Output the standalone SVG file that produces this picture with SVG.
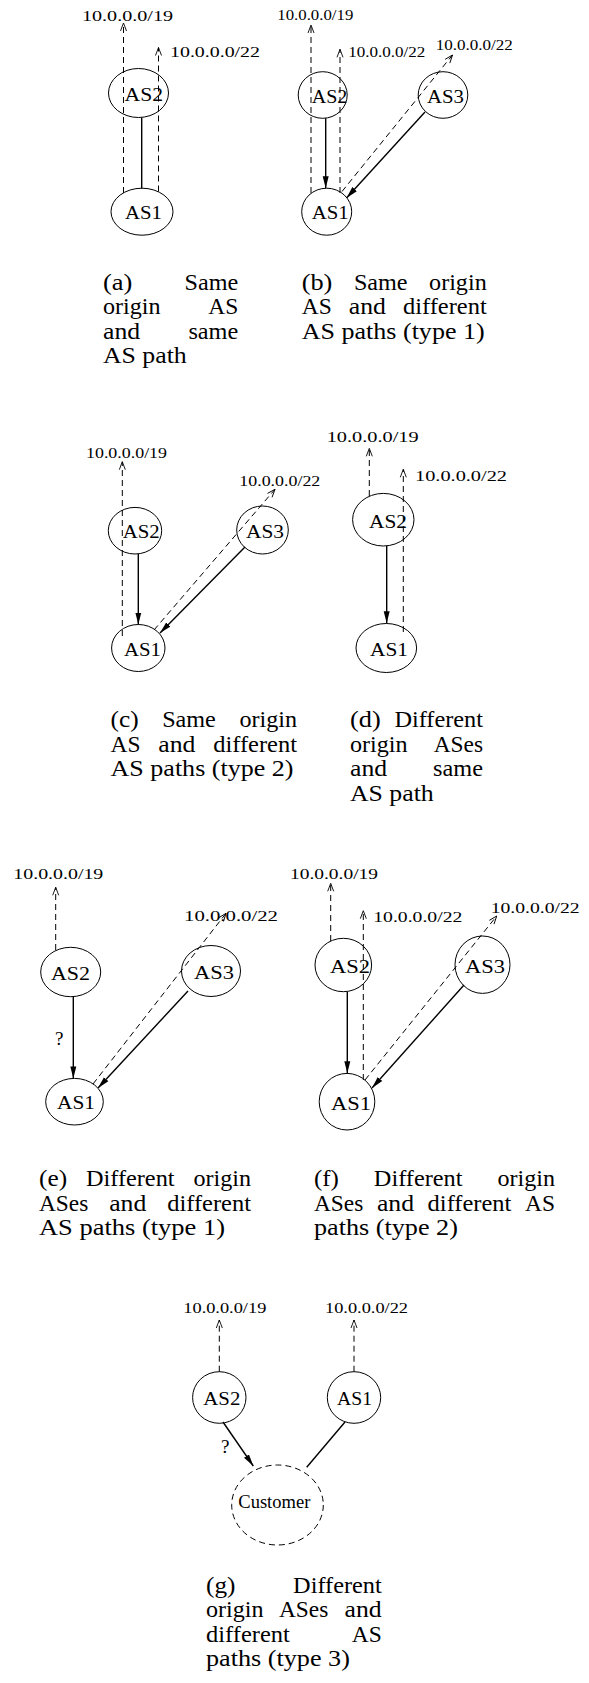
<svg xmlns="http://www.w3.org/2000/svg" width="589" height="1683" viewBox="0 0 589 1683">
<style>
text{font-family:"Liberation Serif","Times New Roman",serif;fill:#000}
.ip{font-size:14.5px}
.lb{font-size:19px}
.cap{font-size:23px}
.q{font-size:19px}
ellipse{fill:none;stroke:#000;stroke-width:1}
.dn{stroke-dasharray:6 4}
.d{fill:none;stroke:#000;stroke-width:1;stroke-dasharray:6 4}
.s{fill:none;stroke:#000;stroke-width:1.4}
</style>
<defs>
<marker id="op" markerWidth="10" markerHeight="8" refX="9" refY="4" orient="auto" markerUnits="userSpaceOnUse"><path d="M1,1 L9,4 L1,7" fill="none" stroke="#000" stroke-width="0.9"/></marker>
<marker id="fa" markerWidth="13" markerHeight="8" refX="12" refY="4" orient="auto" markerUnits="userSpaceOnUse"><path d="M0,1 L12,4 L0,7 Z" fill="#000"/></marker>
</defs>
<rect width="589" height="1683" fill="#fff"/>

<g id="connectors">
<!-- a -->
<path class="d" d="M123.5,193 V23" marker-end="url(#op)"/>
<path class="d" d="M158.5,191.5 V47.5" marker-end="url(#op)"/>
<path class="s" d="M141.7,117.5 V188.3"/>
<!-- b -->
<path class="d" d="M311,193 V25" marker-end="url(#op)"/>
<path class="d" d="M340,193 V49.3" marker-end="url(#op)"/>
<path class="d" d="M342,191.5 L452.5,55" marker-end="url(#op)"/>
<path class="s" d="M325.7,118.3 V188.2" marker-end="url(#fa)"/>
<path class="s" d="M425,112 L346.5,198" marker-end="url(#fa)"/>
<!-- c -->
<path class="d" d="M122.3,636 V461.7" marker-end="url(#op)"/>
<path class="d" d="M154,630 L275,489.3" marker-end="url(#op)"/>
<path class="s" d="M138.3,554 V624.5" marker-end="url(#fa)"/>
<path class="s" d="M245,547 L160,633" marker-end="url(#fa)"/>
<!-- d -->
<path class="d" d="M369.3,496 V448.3" marker-end="url(#op)"/>
<path class="d" d="M403.3,632 V469.3" marker-end="url(#op)"/>
<path class="s" d="M386.7,546 V623.3" marker-end="url(#fa)"/>
<!-- e -->
<path class="d" d="M55.7,950 V887.3" marker-end="url(#op)"/>
<path class="d" d="M93,1084 L226,913.3" marker-end="url(#op)"/>
<path class="s" d="M73.3,996.7 V1078.4" marker-end="url(#fa)"/>
<path class="s" d="M188,991 L98,1088" marker-end="url(#fa)"/>
<!-- f -->
<path class="d" d="M330.7,941 V883.3" marker-end="url(#op)"/>
<path class="d" d="M363.3,1080 V910.7" marker-end="url(#op)"/>
<path class="d" d="M365,1080 L496.7,916" marker-end="url(#op)"/>
<path class="s" d="M347.3,991.7 V1073.3" marker-end="url(#fa)"/>
<path class="s" d="M464,985 L372,1088" marker-end="url(#fa)"/>
<!-- g -->
<path class="d" d="M219.3,1371.7 V1320" marker-end="url(#op)"/>
<path class="d" d="M354,1371.7 V1320" marker-end="url(#op)"/>
<path class="s" d="M223,1422 L253.3,1466" marker-end="url(#fa)"/>
<path class="s" d="M345,1422 L306.7,1467.3"/>
</g>

<g id="prefix-labels" class="ip">
<text x="82" y="20.5" textLength="91" lengthAdjust="spacingAndGlyphs">10.0.0.0/19</text>
<text x="170" y="56.5" textLength="90" lengthAdjust="spacingAndGlyphs">10.0.0.0/22</text>
<text x="277.3" y="19.5" textLength="76" lengthAdjust="spacingAndGlyphs">10.0.0.0/19</text>
<text x="348.3" y="57" textLength="77" lengthAdjust="spacingAndGlyphs">10.0.0.0/22</text>
<text x="435.7" y="50" textLength="77" lengthAdjust="spacingAndGlyphs">10.0.0.0/22</text>
<text x="86" y="458.3" textLength="81" lengthAdjust="spacingAndGlyphs">10.0.0.0/19</text>
<text x="239.3" y="486" textLength="81" lengthAdjust="spacingAndGlyphs">10.0.0.0/22</text>
<text x="326.7" y="441.7" textLength="92" lengthAdjust="spacingAndGlyphs">10.0.0.0/19</text>
<text x="415" y="480.7" textLength="92" lengthAdjust="spacingAndGlyphs">10.0.0.0/22</text>
<text x="13.3" y="879.3" textLength="90" lengthAdjust="spacingAndGlyphs">10.0.0.0/19</text>
<text x="184" y="921" textLength="94" lengthAdjust="spacingAndGlyphs">10.0.0.0/22</text>
<text x="290" y="879.3" textLength="88" lengthAdjust="spacingAndGlyphs">10.0.0.0/19</text>
<text x="373.3" y="921.7" textLength="89" lengthAdjust="spacingAndGlyphs">10.0.0.0/22</text>
<text x="490.7" y="913.3" textLength="89" lengthAdjust="spacingAndGlyphs">10.0.0.0/22</text>
<text x="183.3" y="1313.3" textLength="83" lengthAdjust="spacingAndGlyphs">10.0.0.0/19</text>
<text x="325" y="1313.3" textLength="83" lengthAdjust="spacingAndGlyphs">10.0.0.0/22</text>
</g>

<g id="q-labels" class="q">
<text x="55" y="1045">?</text>
<text x="221" y="1453">?</text>
</g>

<g id="a-AS2"><ellipse cx="138.5" cy="93" rx="30" ry="24.5"/><text class="lb" x="124.5" y="101" textLength="38.5" lengthAdjust="spacingAndGlyphs">AS2</text></g>
<g id="a-AS1"><ellipse cx="142" cy="211.7" rx="31" ry="23.5"/><text class="lb" x="125" y="218.5" textLength="37" lengthAdjust="spacingAndGlyphs">AS1</text></g>

<g id="b-AS2"><ellipse cx="322.7" cy="95" rx="24.5" ry="23.3"/><text class="lb" x="311.7" y="102.5" textLength="35.6" lengthAdjust="spacingAndGlyphs">AS2</text></g>
<g id="b-AS3"><ellipse cx="443" cy="95" rx="24.8" ry="23.3"/><text class="lb" x="427" y="102.5" textLength="37" lengthAdjust="spacingAndGlyphs">AS3</text></g>
<g id="b-AS1"><ellipse cx="326.7" cy="211.7" rx="25" ry="23.5"/><text class="lb" x="311.7" y="219" textLength="37" lengthAdjust="spacingAndGlyphs">AS1</text></g>

<g id="c-AS2"><ellipse cx="135" cy="530.7" rx="26.7" ry="23.3"/><text class="lb" x="122.7" y="538" textLength="37" lengthAdjust="spacingAndGlyphs">AS2</text></g>
<g id="c-AS3"><ellipse cx="262.5" cy="530" rx="25.8" ry="24"/><text class="lb" x="246" y="538" textLength="38" lengthAdjust="spacingAndGlyphs">AS3</text></g>
<g id="c-AS1"><ellipse cx="138.3" cy="648" rx="26.7" ry="23.5"/><text class="lb" x="124" y="655.5" textLength="37" lengthAdjust="spacingAndGlyphs">AS1</text></g>

<g id="d-AS2"><ellipse cx="383.3" cy="519.7" rx="30.7" ry="26.3"/><text class="lb" x="369" y="528" textLength="38" lengthAdjust="spacingAndGlyphs">AS2</text></g>
<g id="d-AS1"><ellipse cx="386.3" cy="648" rx="30.3" ry="24.5"/><text class="lb" x="370" y="656" textLength="38" lengthAdjust="spacingAndGlyphs">AS1</text></g>

<g id="e-AS2"><ellipse cx="70.7" cy="972" rx="30" ry="24.7"/><text class="lb" x="51" y="980" textLength="39" lengthAdjust="spacingAndGlyphs">AS2</text></g>
<g id="e-AS3"><ellipse cx="211" cy="971" rx="29.5" ry="25.5"/><text class="lb" x="194" y="979" textLength="40" lengthAdjust="spacingAndGlyphs">AS3</text></g>
<g id="e-AS1"><ellipse cx="74.5" cy="1101.7" rx="28.8" ry="23.3"/><text class="lb" x="57" y="1109" textLength="38" lengthAdjust="spacingAndGlyphs">AS1</text></g>

<g id="f-AS2"><ellipse cx="343.3" cy="965" rx="28.3" ry="26.7"/><text class="lb" x="330" y="973" textLength="40" lengthAdjust="spacingAndGlyphs">AS2</text></g>
<g id="f-AS3"><ellipse cx="482.5" cy="964.7" rx="27.5" ry="28.7"/><text class="lb" x="465" y="973" textLength="40" lengthAdjust="spacingAndGlyphs">AS3</text></g>
<g id="f-AS1"><ellipse cx="347" cy="1101.7" rx="27.8" ry="28.3"/><text class="lb" x="331" y="1110" textLength="40" lengthAdjust="spacingAndGlyphs">AS1</text></g>

<g id="g-AS2"><ellipse cx="219.3" cy="1397.5" rx="26.7" ry="25.8"/><text class="lb" x="203.3" y="1405" textLength="37" lengthAdjust="spacingAndGlyphs">AS2</text></g>
<g id="g-AS1"><ellipse cx="354" cy="1397.5" rx="26.7" ry="25.8"/><text class="lb" x="337" y="1405" textLength="35" lengthAdjust="spacingAndGlyphs">AS1</text></g>
<g id="g-Customer"><ellipse class="dn" cx="277.5" cy="1505" rx="45.8" ry="40"/><text class="lb" x="238.3" y="1508" textLength="72" lengthAdjust="spacingAndGlyphs">Customer</text></g>

<g id="captions" class="cap">
<!-- a -->
<text x="103" y="289.5" textLength="29.4" lengthAdjust="spacingAndGlyphs">(a)</text>
<text x="184.6" y="289.5" textLength="53.7" lengthAdjust="spacingAndGlyphs">Same</text>
<text x="103" y="314" textLength="57.6" lengthAdjust="spacingAndGlyphs">origin</text>
<text x="208.3" y="314" textLength="30" lengthAdjust="spacingAndGlyphs">AS</text>
<text x="103" y="338.5" textLength="37.1" lengthAdjust="spacingAndGlyphs">and</text>
<text x="188.4" y="338.5" textLength="49.9" lengthAdjust="spacingAndGlyphs">same</text>
<text x="103" y="363" textLength="83.7" lengthAdjust="spacingAndGlyphs">AS path</text>
<!-- b -->
<text x="301.7" y="289.5" textLength="30.7" lengthAdjust="spacingAndGlyphs">(b)</text>
<text x="353.9" y="289.5" textLength="53.7" lengthAdjust="spacingAndGlyphs">Same</text>
<text x="429.1" y="289.5" textLength="57.6" lengthAdjust="spacingAndGlyphs">origin</text>
<text x="301.7" y="314" textLength="30" lengthAdjust="spacingAndGlyphs">AS</text>
<text x="348.75" y="314" textLength="37.1" lengthAdjust="spacingAndGlyphs">and</text>
<text x="402.9" y="314" textLength="83.8" lengthAdjust="spacingAndGlyphs">different</text>
<text x="301.7" y="338.5" textLength="183" lengthAdjust="spacingAndGlyphs">AS paths (type 1)</text>
<!-- c -->
<text x="110.5" y="727" textLength="28.1" lengthAdjust="spacingAndGlyphs">(c)</text>
<text x="162.15" y="727" textLength="53.7" lengthAdjust="spacingAndGlyphs">Same</text>
<text x="239.4" y="727" textLength="57.6" lengthAdjust="spacingAndGlyphs">origin</text>
<text x="110.5" y="751.5" textLength="30" lengthAdjust="spacingAndGlyphs">AS</text>
<text x="158.3" y="751.5" textLength="37.1" lengthAdjust="spacingAndGlyphs">and</text>
<text x="213.2" y="751.5" textLength="83.8" lengthAdjust="spacingAndGlyphs">different</text>
<text x="110.5" y="776" textLength="183" lengthAdjust="spacingAndGlyphs">AS paths (type 2)</text>
<!-- d -->
<text x="350" y="727" textLength="30.7" lengthAdjust="spacingAndGlyphs">(d)</text>
<text x="394.4" y="727" textLength="88.6" lengthAdjust="spacingAndGlyphs">Different</text>
<text x="350" y="751.5" textLength="57.6" lengthAdjust="spacingAndGlyphs">origin</text>
<text x="433.7" y="751.5" textLength="49.3" lengthAdjust="spacingAndGlyphs">ASes</text>
<text x="350" y="776" textLength="37.1" lengthAdjust="spacingAndGlyphs">and</text>
<text x="433.1" y="776" textLength="49.9" lengthAdjust="spacingAndGlyphs">same</text>
<text x="350" y="800.5" textLength="83.7" lengthAdjust="spacingAndGlyphs">AS path</text>
<!-- e -->
<text x="39" y="1186" textLength="28.1" lengthAdjust="spacingAndGlyphs">(e)</text>
<text x="85.95" y="1186" textLength="88.6" lengthAdjust="spacingAndGlyphs">Different</text>
<text x="193.4" y="1186" textLength="57.6" lengthAdjust="spacingAndGlyphs">origin</text>
<text x="39" y="1210.5" textLength="49.3" lengthAdjust="spacingAndGlyphs">ASes</text>
<text x="109.2" y="1210.5" textLength="37.1" lengthAdjust="spacingAndGlyphs">and</text>
<text x="167.2" y="1210.5" textLength="83.8" lengthAdjust="spacingAndGlyphs">different</text>
<text x="39" y="1235" textLength="186" lengthAdjust="spacingAndGlyphs">AS paths (type 1)</text>
<!-- f -->
<text x="314" y="1186" textLength="24.9" lengthAdjust="spacingAndGlyphs">(f)</text>
<text x="373.85" y="1186" textLength="88.6" lengthAdjust="spacingAndGlyphs">Different</text>
<text x="497.4" y="1186" textLength="57.6" lengthAdjust="spacingAndGlyphs">origin</text>
<text x="314" y="1210.5" textLength="49.3" lengthAdjust="spacingAndGlyphs">ASes</text>
<text x="376.9" y="1210.5" textLength="37.1" lengthAdjust="spacingAndGlyphs">and</text>
<text x="427.6" y="1210.5" textLength="83.8" lengthAdjust="spacingAndGlyphs">different</text>
<text x="525" y="1210.5" textLength="30" lengthAdjust="spacingAndGlyphs">AS</text>
<text x="314" y="1235" textLength="143.9" lengthAdjust="spacingAndGlyphs">paths (type 2)</text>
<!-- g -->
<text x="206" y="1592.5" textLength="29.4" lengthAdjust="spacingAndGlyphs">(g)</text>
<text x="293.1" y="1592.5" textLength="88.6" lengthAdjust="spacingAndGlyphs">Different</text>
<text x="206" y="1617" textLength="57.6" lengthAdjust="spacingAndGlyphs">origin</text>
<text x="279" y="1617" textLength="49.3" lengthAdjust="spacingAndGlyphs">ASes</text>
<text x="344.6" y="1617" textLength="37.1" lengthAdjust="spacingAndGlyphs">and</text>
<text x="206" y="1641.5" textLength="83.8" lengthAdjust="spacingAndGlyphs">different</text>
<text x="351.7" y="1641.5" textLength="30" lengthAdjust="spacingAndGlyphs">AS</text>
<text x="206" y="1666" textLength="143.9" lengthAdjust="spacingAndGlyphs">paths (type 3)</text>
</g>
</svg>
